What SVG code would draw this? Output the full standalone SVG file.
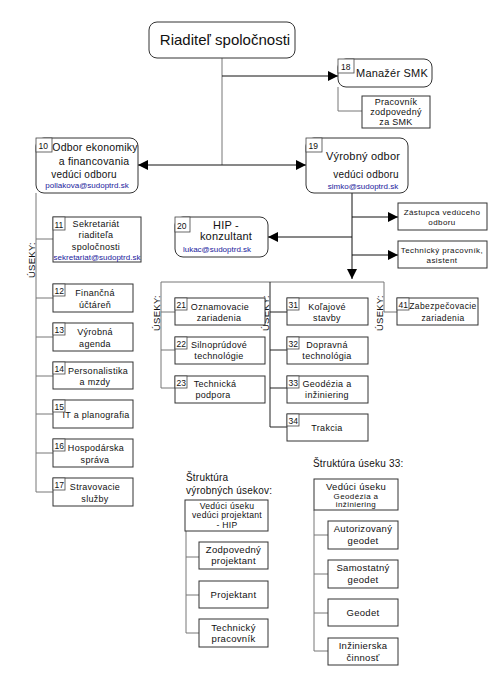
<svg xmlns="http://www.w3.org/2000/svg" width="500" height="678" viewBox="0 0 500 678">
<style>
text{font-family:"Liberation Sans",Arial,sans-serif;fill:#111;}
.c{text-anchor:middle;}
.box{fill:#fff;stroke:#333;stroke-width:1;}
.num{fill:#fff;stroke:#444;stroke-width:0.8;}
.n{font-size:8.5px;}
.s9{font-size:9px;letter-spacing:0.3px;}
.s8{font-size:8px;letter-spacing:0.4px;}
.s10{font-size:10px;letter-spacing:0.2px;}
.s11{font-size:11px;letter-spacing:0.2px;}
.mail{font-size:8px;fill:#1a1a9c;}
.lbl{font-size:9.5px;letter-spacing:0.3px;text-anchor:middle;}
.ln{fill:none;stroke:#777;stroke-width:1;}
.ar{fill:none;stroke:#111;stroke-width:1;marker-end:url(#arr);}
</style>
<defs>
<marker id="arr" viewBox="0 0 10 10" refX="10" refY="5" markerWidth="10" markerHeight="11" markerUnits="userSpaceOnUse" orient="auto">
<path d="M0,0 L10,5 L0,10 z" fill="#000"/>
</marker>
</defs>
<rect width="500" height="678" fill="#fff"/>

<g id="connectors">
<path class="ln" d="M222,58 V165"/>
<path class="ar" d="M222,76 H338"/>
<path class="ln" d="M338,87 V111 H362"/>
<path class="ar" d="M222,165 H138"/>
<path class="ar" d="M222,165 H306"/>
<path class="ln" d="M36,193 V492 M36,239 H53 M36,298 H53 M36,337 H53 M36,376 H53 M36,414 H53 M36,453 H53 M36,492 H53"/>
<path class="ar" d="M352,193 V279"/>
<path class="ar" d="M352,217 H398"/>
<path class="ar" d="M352,237 H268"/>
<path class="ar" d="M352,255 H398"/>
<path class="ln" d="M161,282 H384 V312 H397"/>
<path class="ln" d="M161,282 V388 M161,312 H175 M161,350 H175 M161,388 H175"/>
<path class="ln" d="M270,282 V427 M270,312 H287 M270,350 H287 M270,388 H287 M270,427 H287" style="stroke:#222"/>
<path class="ln" d="M186,531 V633 M186,557 H199 M186,595 H199 M186,633 H199"/>
<path class="ln" d="M314,510 V651 M314,535 H328 M314,574 H328 M314,613 H328 M314,651 H328"/>
</g>

<g id="useky-labels">
<text class="lbl" transform="translate(35,260) rotate(-90)">ÚSEKY:</text>
<text class="lbl" transform="translate(160,313) rotate(-90)">ÚSEKY:</text>
<text class="lbl" transform="translate(269,313) rotate(-90)">ÚSEKY:</text>
<text class="lbl" transform="translate(383,313) rotate(-90)">ÚSEKY:</text>
</g>

<g id="n-riaditel">
<rect class="box" x="149" y="22" width="146" height="36" rx="8"/>
<text class="c" x="225" y="45" style="font-size:15px">Riaditeľ spoločnosti</text>
</g>

<g id="n18">
<rect class="box" x="338" y="59" width="94" height="28" rx="8"/>
<rect class="num" x="338" y="59" width="16" height="14"/>
<text class="n" x="341" y="70">18</text>
<text class="c s11" x="392" y="77">Manažér SMK</text>
</g>

<g id="n-smk-pracovnik">
<rect class="box" x="362" y="96" width="68" height="32"/>
<text class="c s9" x="396" y="104.5">Pracovník</text>
<text class="c s9" x="396" y="114.5">zodpovedný</text>
<text class="c s9" x="396" y="124.5">za SMK</text>
</g>

<g id="n10">
<rect class="box" x="36" y="138" width="102" height="55" rx="8"/>
<rect class="num" x="36" y="138" width="16" height="14"/>
<text class="n" x="38.5" y="149">10</text>
<text class="c s11" x="95" y="151" style="font-size:10.5px">Odbor ekonomiky</text>
<text class="c s11" x="94" y="165" style="font-size:10.5px">a financovania</text>
<text class="c s10" x="84" y="178">vedúci odboru</text>
<text class="c mail" x="87" y="188">pollakova@sudoptrd.sk</text>
</g>

<g id="n19">
<rect class="box" x="306" y="138" width="102" height="55" rx="8"/>
<rect class="num" x="306" y="138" width="16" height="14"/>
<text class="n" x="308.5" y="149">19</text>
<text class="c s11" x="363" y="160">Výrobný odbor</text>
<text class="c s10" x="366" y="177.5">vedúci odboru</text>
<text class="c mail" x="363" y="188.5">simko@sudoptrd.sk</text>
</g>

<g id="n11">
<rect class="box" x="53" y="217" width="88" height="45"/>
<rect class="num" x="53" y="217" width="12" height="13"/>
<text class="n" x="54.5" y="227.5">11</text>
<text class="c s9" x="96" y="226.5">Sekretariát</text>
<text class="c s9" x="96" y="238">riaditeľa</text>
<text class="c s9" x="96" y="249.5">spoločnosti</text>
<text class="c mail" x="97" y="259.5">sekretariat@sudoptrd.sk</text>
</g>

<g id="n20">
<rect class="box" x="175" y="217" width="93" height="40" rx="8"/>
<rect class="num" x="175" y="217" width="15" height="15"/>
<text class="n" x="177" y="228.5">20</text>
<text class="c s11" x="226" y="229">HIP -</text>
<text class="c s11" x="226" y="240">konzultant</text>
<text class="c mail" x="217" y="252">lukac@sudoptrd.sk</text>
</g>

<g id="n-zastupca">
<rect class="box" x="398" y="203" width="89" height="27"/>
<text class="c s8" x="442" y="215">Zástupca vedúceho</text>
<text class="c s8" x="442" y="225">odboru</text>
</g>

<g id="n-technicky">
<rect class="box" x="398" y="241" width="89" height="27"/>
<text class="c s8" x="442" y="253">Technický pracovník,</text>
<text class="c s8" x="442" y="263">asistent</text>
</g>

<g id="n12">
<rect class="box" x="53" y="284" width="80" height="28"/>
<rect class="num" x="53" y="284" width="12" height="12"/>
<text class="n" x="54.5" y="294">12</text>
<text class="c s9" x="95" y="296">Finančná</text>
<text class="c s9" x="95" y="307.5">účtáreň</text>
</g>

<g id="n13">
<rect class="box" x="53" y="323" width="80" height="28"/>
<rect class="num" x="53" y="323" width="12" height="12"/>
<text class="n" x="54.5" y="333">13</text>
<text class="c s9" x="95" y="335">Výrobná</text>
<text class="c s9" x="95" y="346.5">agenda</text>
</g>

<g id="n14">
<rect class="box" x="53" y="362" width="80" height="27"/>
<rect class="num" x="53" y="362" width="12" height="12"/>
<text class="n" x="54.5" y="372">14</text>
<text class="c s9" x="98" y="373.5">Personalistika</text>
<text class="c s9" x="95" y="385">a mzdy</text>
</g>

<g id="n15">
<rect class="box" x="53" y="400" width="80" height="28"/>
<rect class="num" x="53" y="400" width="12" height="12"/>
<text class="n" x="54.5" y="410">15</text>
<text class="c s9" x="96" y="418">IT a planografia</text>
</g>

<g id="n16">
<rect class="box" x="53" y="439" width="80" height="28"/>
<rect class="num" x="53" y="439" width="12" height="12"/>
<text class="n" x="54.5" y="449">16</text>
<text class="c s9" x="96" y="451">Hospodárska</text>
<text class="c s9" x="95" y="462.5">správa</text>
</g>

<g id="n17">
<rect class="box" x="53" y="478" width="80" height="28"/>
<rect class="num" x="53" y="478" width="12" height="12"/>
<text class="n" x="54.5" y="488">17</text>
<text class="c s9" x="95" y="490">Stravovacie</text>
<text class="c s9" x="95" y="501.5">služby</text>
</g>

<g id="n21">
<rect class="box" x="175" y="298" width="90" height="27"/>
<rect class="num" x="175" y="298" width="12" height="12"/>
<text class="n" x="176.5" y="308">21</text>
<text class="c s9" x="220" y="309.5">Oznamovacie</text>
<text class="c s9" x="219" y="320.5">zariadenia</text>
</g>

<g id="n22">
<rect class="box" x="175" y="337" width="90" height="27"/>
<rect class="num" x="175" y="337" width="12" height="12"/>
<text class="n" x="176.5" y="347">22</text>
<text class="c s9" x="219" y="348">Silnoprúdové</text>
<text class="c s9" x="219" y="359">technológie</text>
</g>

<g id="n23">
<rect class="box" x="175" y="376" width="90" height="27"/>
<rect class="num" x="175" y="376" width="12" height="12"/>
<text class="n" x="176.5" y="386">23</text>
<text class="c s9" x="215" y="387">Technická</text>
<text class="c s9" x="213" y="398">podpora</text>
</g>

<g id="n31">
<rect class="box" x="287" y="298" width="81" height="27"/>
<rect class="num" x="287" y="298" width="12" height="12"/>
<text class="n" x="288.5" y="308">31</text>
<text class="c s9" x="327" y="309.5">Koľajové</text>
<text class="c s9" x="327" y="320.5">stavby</text>
</g>

<g id="n32">
<rect class="box" x="287" y="337" width="81" height="27"/>
<rect class="num" x="287" y="337" width="12" height="12"/>
<text class="n" x="288.5" y="347">32</text>
<text class="c s9" x="327" y="348">Dopravná</text>
<text class="c s9" x="327" y="359">technológia</text>
</g>

<g id="n33">
<rect class="box" x="287" y="376" width="81" height="27"/>
<rect class="num" x="287" y="376" width="12" height="12"/>
<text class="n" x="288.5" y="386">33</text>
<text class="c s9" x="327" y="387">Geodézia a</text>
<text class="c s9" x="327" y="398">inžiniering</text>
</g>

<g id="n34">
<rect class="box" x="287" y="414" width="81" height="27"/>
<rect class="num" x="287" y="414" width="12" height="12"/>
<text class="n" x="288.5" y="424">34</text>
<text class="c s9" x="327" y="431">Trakcia</text>
</g>

<g id="n41">
<rect class="box" x="397" y="298" width="81" height="27"/>
<rect class="num" x="397" y="298" width="12" height="12"/>
<text class="n" x="398.5" y="308">41</text>
<text class="c s8" x="443" y="309" style="font-size:8.5px">Zabezpečovacie</text>
<text class="c s8" x="443" y="320.5" style="font-size:8.5px">zariadenia</text>
</g>

<g id="title-vyrobne">
<text class="s10" x="186" y="481">Štruktúra</text>
<text class="s10" x="186" y="494">výrobných úsekov:</text>
</g>

<g id="n-veduci-useku">
<rect class="box" x="185" y="500" width="83" height="31"/>
<text class="c s9" x="227" y="508.5" style="font-size:8.6px">Vedúci úseku</text>
<text class="c s9" x="227" y="518" style="font-size:8.6px">vedúci projektant</text>
<text class="c s9" x="227" y="527.5" style="font-size:8.6px">- HIP</text>
</g>

<g id="n-zodp-projektant">
<rect class="box" x="199" y="542" width="69" height="27"/>
<text class="c s9" x="233.5" y="553" style="font-size:9.5px">Zodpovedný</text>
<text class="c s9" x="233.5" y="564" style="font-size:9.5px">projektant</text>
</g>

<g id="n-projektant">
<rect class="box" x="199" y="581" width="69" height="27"/>
<text class="c s9" x="233.5" y="598" style="font-size:9.5px">Projektant</text>
</g>

<g id="n-tech-pracovnik">
<rect class="box" x="199" y="619" width="69" height="28"/>
<text class="c s9" x="233.5" y="630.5" style="font-size:9.5px">Technický</text>
<text class="c s9" x="233.5" y="642" style="font-size:9.5px">pracovník</text>
</g>

<g id="title-usek33">
<text class="s10" x="313" y="467">Štruktúra úseku 33:</text>
</g>

<g id="n-veduci-33">
<rect class="box" x="314" y="479" width="84" height="31"/>
<text class="c s9" x="356" y="489.5" style="font-size:9.5px">Vedúci úseku</text>
<text class="c s8" x="356" y="499">Geodézia a</text>
<text class="c s8" x="356" y="507">inžiniering</text>
</g>

<g id="n-autorizovany">
<rect class="box" x="328" y="521" width="70" height="28"/>
<text class="c s9" x="363" y="532" style="font-size:9.5px">Autorizovaný</text>
<text class="c s9" x="363" y="543.5" style="font-size:9.5px">geodet</text>
</g>

<g id="n-samostatny">
<rect class="box" x="328" y="560" width="70" height="28"/>
<text class="c s9" x="363" y="571" style="font-size:9.5px">Samostatný</text>
<text class="c s9" x="363" y="582.5" style="font-size:9.5px">geodet</text>
</g>

<g id="n-geodet">
<rect class="box" x="328" y="599" width="70" height="27"/>
<text class="c s9" x="363" y="616" style="font-size:9.5px">Geodet</text>
</g>

<g id="n-inzinierska">
<rect class="box" x="328" y="638" width="70" height="27"/>
<text class="c s9" x="363" y="649" style="font-size:9.5px">Inžinierska</text>
<text class="c s9" x="363" y="660.5" style="font-size:9.5px">činnosť</text>
</g>
</svg>
